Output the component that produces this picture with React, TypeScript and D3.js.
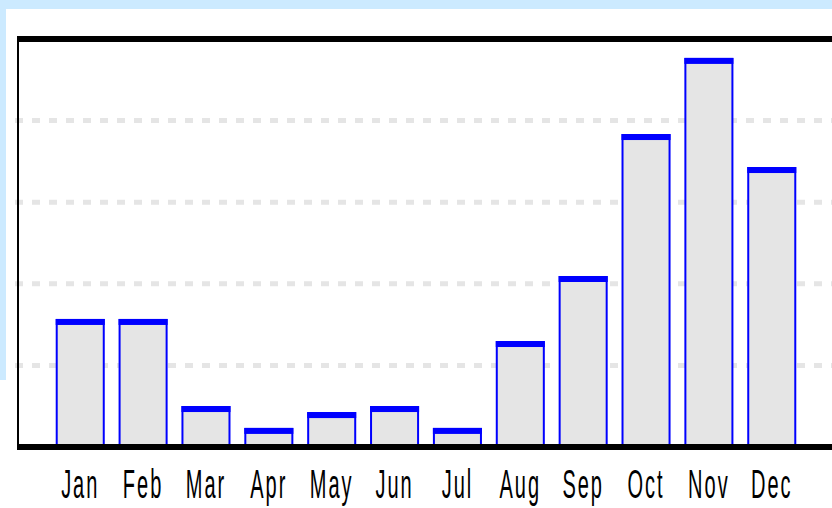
import React from "react";
import * as d3 from "d3";

const months = ["Jan", "Feb", "Mar", "Apr", "May", "Jun", "Jul", "Aug", "Sep", "Oct", "Nov", "Dec"];
const values = [78.5, 78.5, 25.2, 11.8, 21.5, 25.2, 11.8, 65, 104.8, 191.7, 238.3, 171.5];
const gridTicks = [50, 100, 150, 200];

const W = 832;
const H = 508;

const App = () => {
  const x = d3.scaleBand<string>().domain(months).range([18, 834]).paddingInner(0.22).paddingOuter(0.6);
  const y = d3.scaleLinear().domain([0, 250]).range([447.2, 38.8]);
  const bw = x.bandwidth();

  return (
    <svg
      width={W}
      height={H}
      style={{ position: "absolute", left: 0, top: 0, display: "block", background: "#fff" }}
    >
      {/* light blue frame */}
      <rect x={0} y={0} width={W} height={9} fill="#cceaff" />
      <rect x={0} y={0} width={6} height={380} fill="#cceaff" />

      {/* grid */}
      {gridTicks.map((t) => (
        <line
          key={t}
          x1={15}
          x2={W}
          y1={y(t)}
          y2={y(t)}
          stroke="#e5e5e5"
          strokeWidth={5}
          strokeDasharray="8,9"
        />
      ))}

      {/* bars */}
      {values.map((v, i) => {
        const m = months[i];
        const x0 = x(m)!;
        const top = y(v);
        return (
          <g key={m}>
            <rect x={x0 + 1} y={top + 1} width={bw - 2} height={y(0) - top} fill="#e5e5e5" stroke="#0000ff" strokeWidth={2} />
            <rect x={x0} y={top} width={bw} height={6} fill="#0000ff" />
          </g>
        );
      })}

      {/* axes / frame */}
      <rect x={17} y={36} width={W - 17} height={6} fill="#000" />
      <rect x={17} y={36} width={2} height={414} fill="#000" />
      <rect x={17} y={444} width={W - 17} height={6} fill="#000" />

      {/* month labels */}
      {months.map((m) => (
        <g key={m} transform={`translate(${x(m)! + bw / 2},498) scale(1,2)`}>
          <text
            textAnchor="middle"
            fontFamily="Liberation Sans, Arial, sans-serif"
            fontSize={20}
            letterSpacing={2}
            fill="#000"
          >
            {m}
          </text>
        </g>
      ))}
    </svg>
  );
};

export default App;
